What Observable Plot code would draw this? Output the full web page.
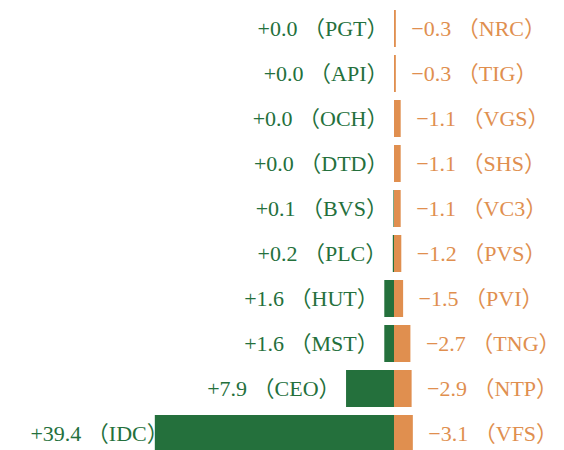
<!DOCTYPE html>
<html>
<head>
<meta charset="utf-8">
<script src="https://cdn.jsdelivr.net/npm/d3@7"></script>
<script src="https://cdn.jsdelivr.net/npm/@observablehq/plot@0.6"></script>
<style>
  html, body { margin: 0; padding: 0; background: white; }
</style>
</head>
<body>
<div id="chart"></div>
<script>
const greenCodes = ["PGT", "API", "OCH", "DTD", "BVS", "PLC", "HUT", "MST", "CEO", "IDC"];
const greenValues = [0.0, 0.0, 0.0, 0.0, 0.1, 0.2, 1.6, 1.6, 7.9, 39.4];
const orangeCodes = ["NRC", "TIG", "VGS", "SHS", "VC3", "PVS", "PVI", "TNG", "NTP", "VFS"];
const orangeValues = [-0.3, -0.3, -1.1, -1.1, -1.1, -1.2, -1.5, -2.7, -2.9, -3.1];

const GREEN = "#24703c";
const ORANGE = "#e08f4f";
const fmt = v => (v < 0 ? "\u2212" : "+") + Math.abs(v).toFixed(1);

const rows = greenCodes.map((gc, i) => ({
  i, gc, g: greenValues[i], oc: orangeCodes[i], o: orangeValues[i]
}));

const chart = Plot.plot({
  width: 564,
  height: 462,
  marginTop: 0,
  marginBottom: 0,
  marginLeft: 0,
  marginRight: 0,
  x: {domain: [-64.9, 28.0], axis: null},
  y: {domain: rows.map(d => d.i), axis: null, padding: 0.174},
  style: {
    fontFamily: '"Liberation Serif", "Noto Sans CJK SC", serif',
    fontSize: "22px",
    background: "white",
    overflow: "visible"
  },
  marks: [
    Plot.barX(rows, {y: "i", x1: 0, x2: d => -d.g, fill: GREEN}),
    Plot.barX(rows, {y: "i", x1: 0, x2: d => -d.o, fill: ORANGE}),
    Plot.text(rows, {
      y: "i",
      x: d => Math.max(-d.g, -36.2),
      text: d => `${fmt(d.g)} （${d.gc}）`,
      textAnchor: "end",
      dx: -6,
      fontSize: 22,
      fill: GREEN
    }),
    Plot.text(rows, {
      y: "i",
      x: d => -d.o,
      text: d => `${fmt(d.o)} （${d.oc}）`,
      textAnchor: "start",
      dx: 15,
      fontSize: 22,
      fill: ORANGE
    })
  ]
});
document.getElementById("chart").append(chart);
</script>
</body>
</html>
